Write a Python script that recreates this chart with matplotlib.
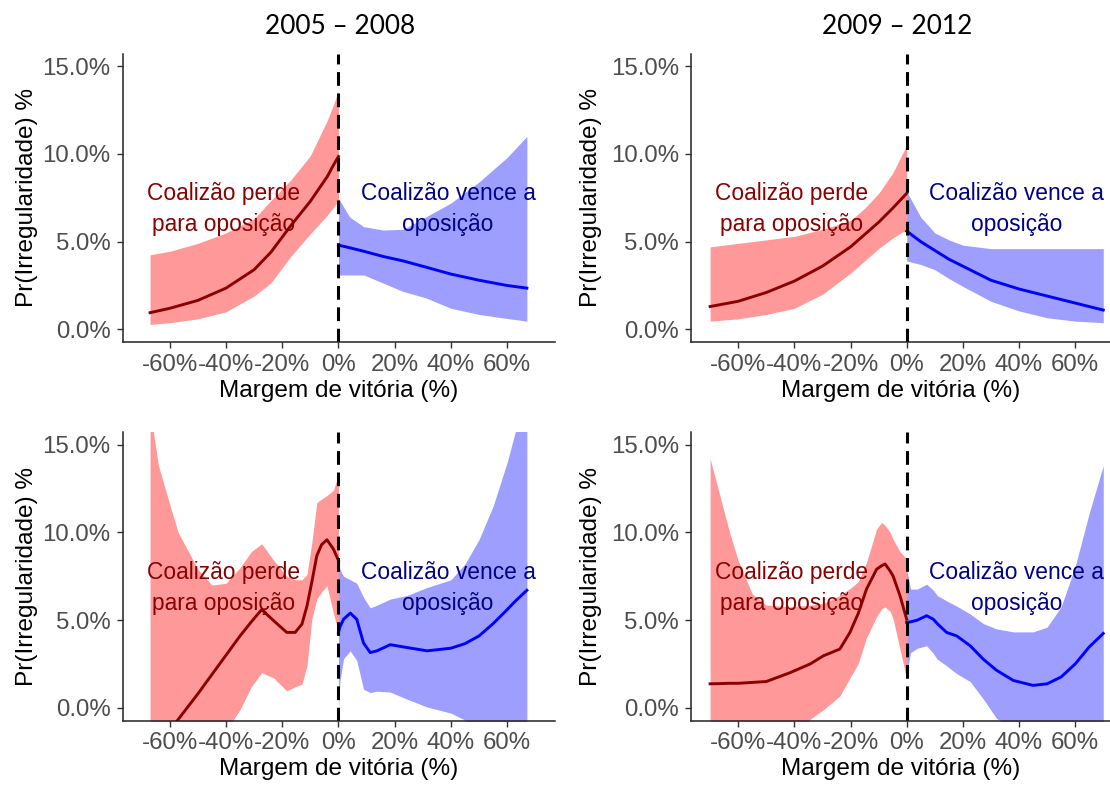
import matplotlib
matplotlib.use("Agg")
import matplotlib.pyplot as plt
from matplotlib.ticker import FuncFormatter

# values in percent
periods = ["2005 – 2008", "2009 – 2012"]

# 2005-2008, model 1 (top left)
x_lose_a = [-67, -60, -50, -40, -30, -24, -17, -10, -4, -2, 0]
fit_lose_a = [0.95, 1.2, 1.65, 2.35, 3.4, 4.4, 5.9, 7.3, 8.7, 9.3, 9.85]
hi_lose_a = [4.25, 4.45, 4.9, 5.5, 6.3, 7.35, 8.5, 9.9, 11.9, 12.7, 13.6]
lo_lose_a = [0.28, 0.38, 0.6, 1.0, 1.9, 2.65, 4.15, 5.45, 6.5, 6.9, 7.35]
x_win_a = [0, 4, 9, 16, 23, 31, 40, 50, 60, 67]
fit_win_a = [4.8, 4.65, 4.45, 4.15, 3.9, 3.55, 3.15, 2.8, 2.5, 2.35]
hi_win_a = [7.46, 6.4, 5.85, 5.66, 5.7, 6.4, 7.2, 8.4, 9.8, 11.0]
lo_win_a = [3.1, 3.1, 3.1, 2.63, 2.16, 1.8, 1.2, 0.85, 0.62, 0.47]

# 2009-2012, model 1 (top right)
x_lose_b = [-70, -60, -50, -40, -30, -20, -15, -10, -5, 0]
fit_lose_b = [1.3, 1.6, 2.1, 2.75, 3.6, 4.7, 5.4, 6.1, 6.9, 7.75]
hi_lose_b = [4.7, 4.9, 5.1, 5.3, 5.7, 6.2, 6.9, 7.75, 8.9, 10.5]
lo_lose_b = [0.47, 0.6, 0.85, 1.2, 2.0, 3.2, 3.9, 4.6, 5.2, 5.7]
x_win_b = [0, 5, 10, 15, 20, 30, 40, 50, 60, 70]
fit_win_b = [5.6, 5.0, 4.5, 4.0, 3.6, 2.8, 2.3, 1.9, 1.5, 1.1]
hi_win_b = [7.85, 6.4, 5.5, 5.1, 4.8, 4.6, 4.6, 4.6, 4.6, 4.6]
lo_win_b = [3.9, 3.7, 3.4, 2.9, 2.45, 1.6, 1.05, 0.66, 0.47, 0.38]

# 2005-2008, model 2 (bottom left)
x_lose_c = [-67, -64, -60, -57, -50, -45, -40, -35, -31, -27.3, -23, -18.4, -15.4, -13, -11.2, -9.5, -7.7, -6, -4.1, -1.8, 0]
fit_lose_c = [-2.8, -2.15, -1.3, -0.66, 0.8, 1.9, 3.0, 4.1, 4.9, 5.6, 4.96, 4.3, 4.3, 4.77, 5.8, 7.15, 8.67, 9.3, 9.58, 9.05, 8.4]
hi_lose_c = [17.0, 13.8, 11.6, 10.0, 7.9, 7.0, 7.1, 8.0, 8.9, 9.35, 8.4, 7.5, 7.3, 7.3, 7.6, 9.4, 11.7, 11.9, 12.1, 12.4, 13.3]
lo_lose_c = [-10, -9, -7.5, -6.5, -4.3, -2.8, -1.3, -0.1, 1.2, 2.0, 1.7, 0.97, 1.2, 1.35, 2.4, 5.05, 6.2, 6.6, 6.96, 5.4, 4.3]
x_win_c = [0, 0.5, 1.8, 4.2, 6.5, 8.9, 11.3, 13.7, 18.4, 24.3, 31.5, 40, 45, 50, 55, 60, 63, 67]
fit_win_c = [4.3, 4.6, 5.05, 5.4, 5.05, 3.7, 3.15, 3.25, 3.6, 3.44, 3.25, 3.4, 3.66, 4.1, 4.8, 5.6, 6.1, 6.7]
hi_win_c = [8.3, 7.9, 7.5, 7.3, 7.1, 6.3, 5.7, 5.85, 6.2, 6.4, 6.86, 7.3, 8.2, 9.6, 11.5, 14.0, 15.8, 19.0]
lo_win_c = [-0.1, 1.5, 2.8, 3.25, 2.7, 1.06, 0.87, 0.95, 0.9, 0.5, 0.05, -0.3, -0.7, -1.3, -2.0, -2.5, -3.0, -4.0]

# 2009-2012, model 2 (bottom right)
x_lose_d = [-70, -67, -63, -60, -55, -50, -41.6, -34.4, -29.6, -23.8, -20.2, -17.2, -14.3, -10.7, -8.9, -7.7, -5.9, -4.8, -2.4, 0]
fit_lose_d = [1.37, 1.38, 1.4, 1.4, 1.45, 1.5, 2.0, 2.5, 2.97, 3.35, 4.3, 5.4, 6.77, 7.9, 8.1, 8.2, 7.8, 7.5, 6.4, 5.05]
hi_lose_d = [14.2, 12.4, 9.96, 8.4, 6.5, 5.86, 5.76, 5.85, 5.95, 6.4, 6.8, 7.2, 8.3, 10.2, 10.57, 10.4, 10.0, 9.6, 8.9, 8.5]
lo_lose_d = [-8, -7, -6, -5.3, -4.3, -3.5, -2.1, -0.65, -0.1, 0.68, 1.7, 2.55, 4.0, 5.2, 5.65, 5.75, 5.5, 5.05, 3.35, 1.63]
x_win_d = [0, 1.4, 3.8, 7.1, 9.5, 10.9, 14.2, 17.8, 22.6, 27.3, 32, 38, 45, 50, 55, 60, 65, 70]
fit_win_d = [4.87, 4.9, 5.0, 5.25, 5.05, 4.8, 4.3, 4.1, 3.54, 2.77, 2.14, 1.56, 1.28, 1.37, 1.76, 2.5, 3.47, 4.24]
hi_win_d = [7.9, 6.77, 6.77, 7.05, 6.7, 6.4, 6.1, 5.8, 5.35, 4.8, 4.5, 4.33, 4.33, 4.6, 5.76, 8.05, 11.1, 13.8]
lo_win_d = [2.0, 3.15, 3.4, 3.54, 3.1, 2.77, 2.4, 1.95, 1.5, 0.5, -0.6, -1.2, -1.8, -2.0, -2.0, -1.8, -1.4, -1.0]

x_ticks = [-60, -40, -20, 0, 20, 40, 60]
y_ticks = [0, 5, 10, 15]
lose_label = "Coalizão perde\npara oposição"
win_label = "Coalizão vence a\noposição"

panels = [
    (x_lose_a, fit_lose_a, lo_lose_a, hi_lose_a, x_win_a, fit_win_a, lo_win_a, hi_win_a),
    (x_lose_b, fit_lose_b, lo_lose_b, hi_lose_b, x_win_b, fit_win_b, lo_win_b, hi_win_b),
    (x_lose_c, fit_lose_c, lo_lose_c, hi_lose_c, x_win_c, fit_win_c, lo_win_c, hi_win_c),
    (x_lose_d, fit_lose_d, lo_lose_d, hi_lose_d, x_win_d, fit_win_d, lo_win_d, hi_win_d),
]

W, H = 1110, 787
fig = plt.figure(figsize=(W / 100, H / 100), dpi=100)

# axes boxes in pixels: left, top, right, bottom
boxes = [(122.5, 53.5, 555, 342), (691, 53.5, 1110, 342),
         (122.5, 432, 555, 720.5), (691, 432, 1110, 720.5)]
xlims = [(-76.8, 77), (-76.8, 72.4), (-76.8, 77), (-76.8, 72.4)]

font = "Liberation Sans"
grey = "#4D4D4D"

for i, (box, data) in enumerate(zip(boxes, panels)):
    l, t, r, b = box
    ax = fig.add_axes([l / W, 1 - b / H, (r - l) / W, (b - t) / H])
    xl, fl, lol, hil, xw, fw, low, hiw = data
    ax.fill_between(xl, lol, hil, color="red", alpha=0.4, lw=0)
    ax.plot(xl, fl, color="#8B0000", lw=2.1, solid_joinstyle="round")
    ax.fill_between(xw, low, hiw, color="blue", alpha=0.38, lw=0)
    ax.plot(xw, fw, color="blue", lw=2.1, solid_joinstyle="round")
    ax.axvline(0, color="black", lw=2.2, linestyle=(0, (4.5, 2.5)))

    ax.text(-41, 6.85, lose_label, color="#8B0000", ha="center", va="center",
            fontsize=16.4, family=font, linespacing=1.45)
    ax.text(39, 6.85, win_label, color="#00008B", ha="center", va="center",
            fontsize=16.4, family=font, linespacing=1.45)

    ax.set_xlim(*xlims[i])
    ax.set_ylim(-0.72, 15.72)
    ax.set_xticks(x_ticks)
    ax.set_yticks(y_ticks)
    ax.xaxis.set_major_formatter(FuncFormatter(lambda v, p: f"{v:.0f}%"))
    ax.yaxis.set_major_formatter(FuncFormatter(lambda v, p: f"{v:.1f}%"))
    for s in ["top", "right"]:
        ax.spines[s].set_visible(False)
    for s in ["left", "bottom"]:
        ax.spines[s].set_linewidth(1.1)
        ax.spines[s].set_color("#222222")
    ax.tick_params(direction="out", length=4.5, width=1, color="#333333",
                   labelsize=17.3, labelcolor=grey, pad=4)
    for lab in ax.get_xticklabels() + ax.get_yticklabels():
        lab.set_family(font)

    ax.set_xlabel("Margem de vitória (%)", fontsize=17.6, family=font, color="black")
    ax.set_ylabel("Pr(Irregularidade) %", fontsize=17.6, family=font, color="black")
    ax.xaxis.set_label_coords(0.5, -38.0 / (b - t))
    # y label centred about 95-100 px left of the spine
    ylab_x = 27 if l < 600 else 591
    ax.yaxis.set_label_coords((ylab_x - l) / (r - l), 0.5)
    ax.yaxis.label.set_va("center")
    ax.xaxis.label.set_va("top")

# period titles above the top row
fig.text(340 / W, 1 - 27 / H, periods[0], ha="center", va="center",
         fontsize=18.9, family="Lato", color="black")
fig.text(897 / W, 1 - 27 / H, periods[1], ha="center", va="center",
         fontsize=18.9, family="Lato", color="black")

fig.savefig("out.png", dpi=100)
